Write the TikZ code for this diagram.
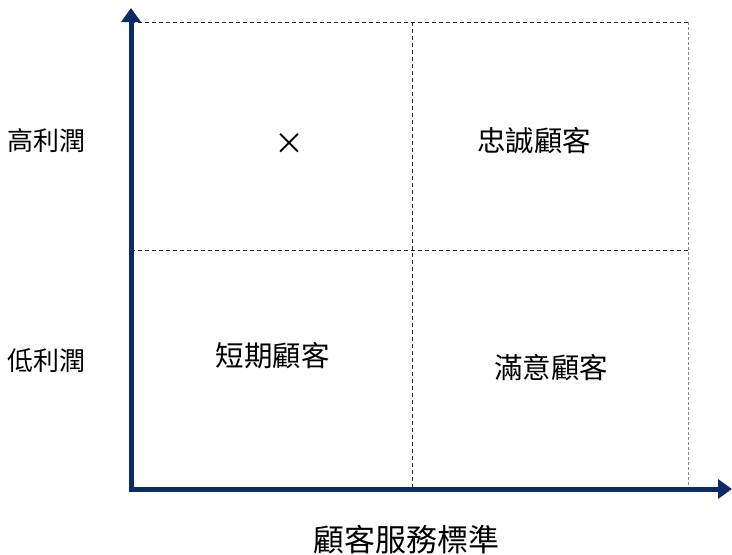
\documentclass[tikz,border=0pt]{standalone}
\usepackage{fontspec}
\setmainfont{Noto Sans CJK TC}
\usetikzlibrary{arrows.meta}
\definecolor{axisblue}{HTML}{0B2A66}
\begin{document}
\begin{tikzpicture}[x=1pt,y=-1pt,
  axis/.style={draw=axisblue,line width=5pt,-{Triangle[length=14pt,width=19pt]}},
  grid/.style={draw=black!85,line width=0.9pt,dash pattern=on 4pt off 3pt},
  gridgray/.style={draw=black!45,line width=0.9pt,dash pattern=on 3pt off 2pt},
  lbl/.style={font=\fontsize{26pt}{30pt}\selectfont,inner sep=0pt,anchor=center},
  qlbl/.style={font=\fontsize{28.5pt}{32pt}\selectfont,inner sep=0pt,anchor=center}]
\useasboundingbox (0,0) rectangle (732,555);
\coordinate (O) at (131,489);
\coordinate (Ytop) at (131,8);
\coordinate (Xend) at (732,489);
\coordinate (TL) at (131,22);
\coordinate (TM) at (412,22);
\coordinate (TR) at (688,22);
\coordinate (BM) at (412,487);
\coordinate (BR) at (688,487);
\coordinate (ML) at (131,250);
\coordinate (MR) at (688,250);
\draw[grid] (TL) -- (TR);
\draw[gridgray] (TR) -- (BR);
\draw[grid] (TM) -- (BM);
\draw[grid] (ML) -- (MR);
\draw[axis] (O) -- (Ytop);
\draw[axis] ([xshift=-2.5pt]O) -- (Xend);
\node[lbl] (hi) at (47,141) {高利潤};
\node[lbl] (lo) at (47,361) {低利潤};
\node[font=\fontsize{30pt}{32pt}\selectfont,inner sep=0pt] (x) at (289,144) {×};
\node[qlbl] (loyal) at (534,141) {忠誠顧客};
\node[qlbl] (short) at (272.5,356) {短期顧客};
\node[qlbl] (sat) at (551,368) {滿意顧客};
\node[font=\fontsize{31pt}{34pt}\selectfont,inner sep=0pt] (xl) at (406,540) {顧客服務標準};
\end{tikzpicture}
\end{document}
